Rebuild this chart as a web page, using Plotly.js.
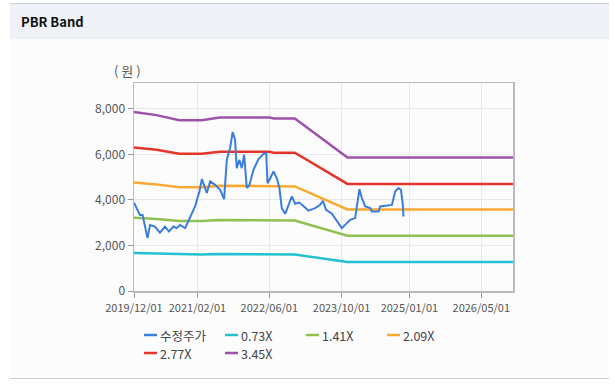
<!DOCTYPE html>
<html>
<head>
<meta charset="utf-8">
<script src="https://cdn.plot.ly/plotly-3.0.1.min.js"></script>
<style>
  html, body { margin:0; padding:0; width:615px; height:385px; background:#ffffff; overflow:hidden; font-family:"Noto Sans CJK KR","Noto Sans",sans-serif; }
  #panel { position:absolute; left:10px; top:3px; width:599px; height:374px; border-top:1px solid #cfcfcf; border-bottom:1px solid #cfcfcf; background:#fcfcfd; }
  #head { position:absolute; left:0; top:0; width:599px; height:35px; background:#eef2f7; }
  #head span { position:absolute; left:11px; top:8px; font-size:13px; font-weight:bold; color:#111; }
  #chart { position:absolute; left:0; top:0; width:615px; height:385px; }
</style>
</head>
<body>
<div id="panel"><div id="head"><span>PBR Band</span></div></div>
<div id="chart"></div>
<script>
// ---- data ----
const priceDates = ['2019-12-01','2020-01-10','2020-01-28','2020-03-01','2020-03-18','2020-04-20','2020-05-24','2020-06-27','2020-07-24','2020-08-22','2020-09-14','2020-10-07','2020-11-10','2020-12-14','2021-01-16','2021-02-14','2021-03-03','2021-04-05','2021-04-28','2021-05-31','2021-07-04','2021-07-31','2021-08-18','2021-09-09','2021-09-27','2021-10-13','2021-10-24','2021-11-11','2021-11-27','2021-12-13','2021-12-31','2022-01-18','2022-02-14','2022-03-20','2022-04-23','2022-05-11','2022-05-20','2022-06-07','2022-06-29','2022-07-22','2022-08-08','2022-08-24','2022-09-16','2022-10-31','2022-11-22','2022-12-21','2023-01-17','2023-02-20','2023-04-06','2023-05-10','2023-05-28','2023-06-19','2023-07-28','2023-08-31','2023-10-03','2023-11-06','2023-11-28','2024-01-01','2024-01-13','2024-01-30','2024-02-15','2024-03-09','2024-04-12','2024-04-23','2024-06-07','2024-06-18','2024-07-22','2024-09-05','2024-09-27','2024-10-20','2024-11-05','2024-11-18','2024-11-22'];
const priceValues = [3880,3340,3340,2320,2900,2830,2560,2830,2610,2830,2760,2900,2760,3270,3710,4370,4910,4300,4810,4660,4440,4030,5760,6270,6980,6640,5390,5760,5390,5980,4520,4660,5320,5790,6020,6050,4730,4950,5250,4950,4520,3640,3390,4150,3830,3880,3710,3530,3640,3780,3960,3560,3390,3060,2760,2980,3120,3200,3710,4470,4080,3710,3640,3490,3490,3710,3740,3780,4370,4520,4440,3780,3270];

const bandDates = ['2019-12-01','2020-05-01','2020-10-01','2021-03-01','2021-07-01','2022-06-01','2022-07-01','2022-11-20','2023-11-10','2026-12-01'];
const band073 = [1670,1640,1600,1600,1620,1620,1600,1600,1270,1270];
const band141 = [3210,3160,3070,3070,3120,3120,3090,3090,2430,2430];
const band209 = [4760,4680,4550,4550,4620,4620,4590,4590,3580,3580];
const band277 = [6300,6200,6020,6020,6110,6110,6070,6070,4700,4700];
const band345 = [7855,7720,7500,7500,7620,7620,7570,7570,5860,5860];

const seriesNames = ['수정주가','0.73X','1.41X','2.09X','2.77X','3.45X'];
const tickVals = ['2019-12-01','2021-02-01','2022-06-01','2023-10-01','2025-01-01','2026-05-01'];
const tickText = ['2019/12/01','2021/02/01','2022/06/01','2023/10/01','2025/01/01','2026/05/01'];
const yTickVals = [0,2000,4000,6000,8000];
const yTickText = ['0','2,000','4,000','6,000','8,000'];

// ---- styles ----
const colors = ['#3b7ddd','#22c0d0','#8fc052','#fba832','#e5352b','#9c52a8'];
const M = {l:134, r:102, t:83, b:94};
const W = 615, H = 385;
const PW = W - M.l - M.r, PH = H - M.t - M.b;
const px2x = p => (p - M.l) / PW;
const py2y = p => (H - M.b - p) / PH;

const bands = [band073, band141, band209, band277, band345];
const traces = [];
bands.forEach((b,i)=>{
  traces.push({x: bandDates, y: b, name: seriesNames[i+1], type:'scatter', mode:'lines',
    line:{color:colors[i+1], width:2.5}, showlegend:false});
});
traces.push({x: priceDates, y: priceValues, name: seriesNames[0], type:'scatter', mode:'lines',
  line:{color:colors[0], width:2}, showlegend:false});

// custom legend (short key lines like the original)
const legendSlots = [[144,335],[225,335],[306,335],[387,335],[144,353],[225,353]];
const shapes = [], annotations = [];
seriesNames.forEach((n,i)=>{
  const [lx, ly] = legendSlots[i];
  shapes.push({type:'line', xref:'paper', yref:'paper', x0:px2x(lx), x1:px2x(lx+13), y0:py2y(ly), y1:py2y(ly),
    line:{color:colors[i], width:2.5}});
  annotations.push({text:n, xref:'paper', yref:'paper', x:px2x(lx+15), y:py2y(ly), xanchor:'left', yanchor:'middle',
    showarrow:false, borderpad:0, font:{size:12.5, color:'#444'}});
});
annotations.push({text:'( 원 )', xref:'paper', yref:'paper', x:px2x(112), y:py2y(70), xanchor:'left', yanchor:'middle', showarrow:false,
  font:{size:13, color:'#555'}});

const layout = {
  width:W, height:H,
  paper_bgcolor:'rgba(0,0,0,0)', plot_bgcolor:'rgba(0,0,0,0)',
  margin:M,
  font:{family:'"Noto Sans CJK KR","Noto Sans",sans-serif', color:'#555', size:11},
  xaxis:{type:'date', range:['2019-12-01','2026-12-01'], tickvals:tickVals, ticktext:tickText,
    showgrid:true, gridcolor:'#e8e8e8', gridwidth:1, showline:true, linecolor:'#bbbbbb', linewidth:1.5, mirror:true,
    ticks:'outside', ticklen:5, tickcolor:'#999', ticklabelstandoff:1, tickfont:{size:11, color:'#555'}, zeroline:false, fixedrange:true},
  yaxis:{range:[0,9130], tickvals:yTickVals, ticktext:yTickText,
    showgrid:true, gridcolor:'#e8e8e8', gridwidth:1, showline:true, linecolor:'#bbbbbb', linewidth:1.5, mirror:true,
    ticks:'outside', ticklen:5, tickcolor:'#999', tickfont:{size:12, color:'#555'}, zeroline:false, fixedrange:true},
  showlegend:false,
  shapes:shapes,
  annotations:annotations
};
Plotly.newPlot('chart', traces, layout, {displayModeBar:false, staticPlot:true});
</script>
</body>
</html>
